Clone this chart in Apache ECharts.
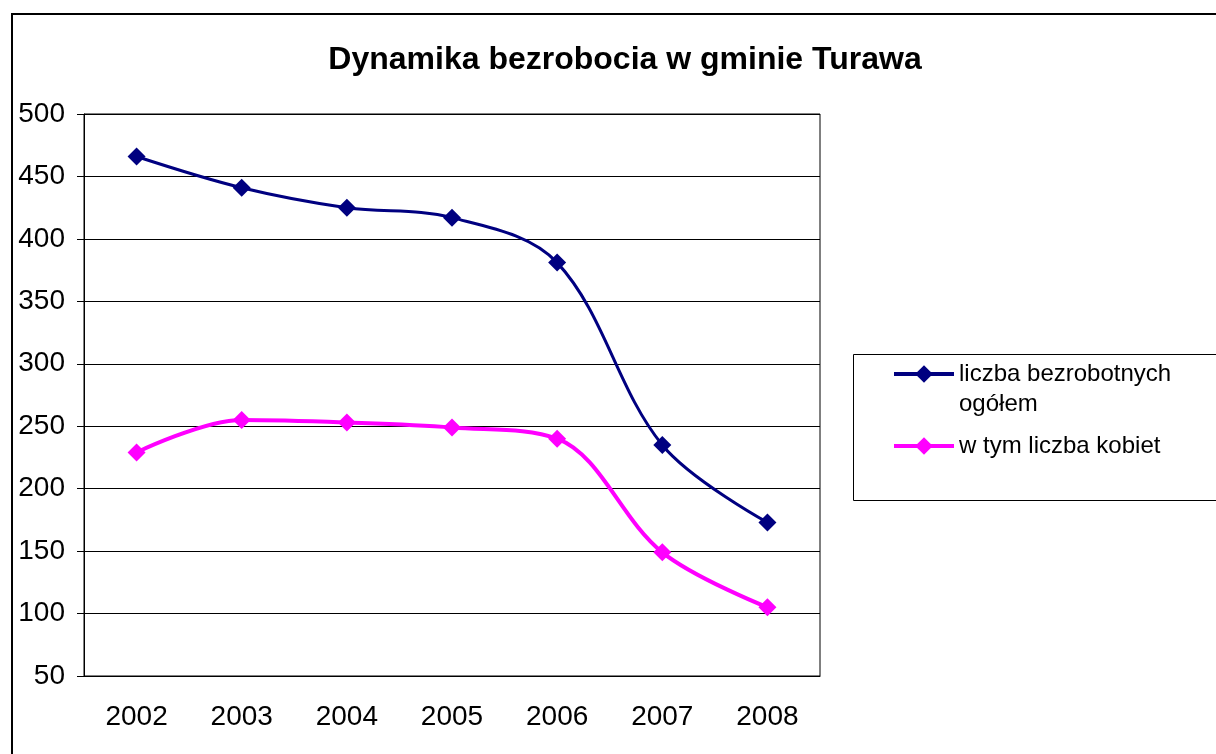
<!DOCTYPE html>
<html>
<head>
<meta charset="utf-8">
<script src="https://cdn.jsdelivr.net/npm/echarts@6/dist/echarts.min.js"></script>
<style>
	html, body { margin: 0; padding: 0; background: #fff; }
	#container { width: 1216px; height: 754px; }
</style>
</head>
<body>
<div id="container"></div>
<script>
// dane
var lata = ['2002', '2003', '2004', '2005', '2006', '2007', '2008'];
var ogolem = [466, 441, 425, 417, 381, 235, 173];
var kobiety = [229, 255, 253, 249, 240, 149, 105];
var nazwy = ['liczba bezrobotnych ogółem', 'w tym liczba kobiet'];
var tytul = 'Dynamika bezrobocia w gminie Turawa';

var myChart = echarts.init(document.getElementById('container'));
var font = 'Liberation Sans, Arial, sans-serif';

var option = {
	animation : false,
	backgroundColor : '#fff',
	title : {
		text : tytul,
		left : 620,
		top : 39,
		textAlign : 'center',
		textStyle : { fontFamily : font, fontSize : 32, fontWeight : 'bold', color : '#000' }
	},
	graphic : [
		{ type : 'rect', shape : { x : 12, y : 14, width : 1300, height : 800 },
		  style : { fill : 'none', stroke : '#000', lineWidth : 2 }, silent : true },
		{ type : 'rect', shape : { x : 853.5, y : 354.5, width : 400, height : 146 },
		  style : { fill : 'none', stroke : '#000', lineWidth : 1 }, silent : true }
	],
	legend : {
		orient : 'vertical',
		left : 887,
		top : 324,
		itemWidth : 60,
		itemHeight : 22,
		itemGap : 12,
		lineStyle : { width : 4 },
		data : nazwy,
		// pusta linia na gorze - znacznik zostaje przy pierwszej linii tekstu
		formatter : function(name) {
			return name == nazwy[0] ? '\nliczba bezrobotnych\nogółem' : name;
		},
		textStyle : { fontFamily : font, fontSize : 24, color : '#000', lineHeight : 30 }
	},
	grid : {
		left : 84, right : 396, top : 114, bottom : 78,
		show : true, borderColor : '#000', borderWidth : 1
	},
	xAxis : {
		type : 'category',
		data : lata,
		boundaryGap : true,
		axisLine : { lineStyle : { color : '#000', width : 1 } },
		axisTick : { length : 8, lineStyle : { color : '#555' } },
		axisLabel : { margin : 27, fontFamily : font, fontSize : 28, color : '#000' }
	},
	yAxis : {
		type : 'value',
		min : 50, max : 500, interval : 50,
		axisLine : { show : true, lineStyle : { color : '#000', width : 1 } },
		axisTick : { show : true, length : 7, lineStyle : { color : '#000' } },
		splitLine : { lineStyle : { color : '#000', width : 1 } },
		axisLabel : { margin : 19, fontFamily : font, fontSize : 28, color : '#000' }
	},
	series : [
		{
			name : nazwy[0],
			type : 'line',
			data : ogolem,
			smooth : 0.35,
			symbol : 'diamond',
			symbolSize : 18,
			lineStyle : { color : '#000080', width : 3 },
			itemStyle : { color : '#000080' }
		},
		{
			name : nazwy[1],
			type : 'line',
			data : kobiety,
			smooth : 0.35,
			symbol : 'diamond',
			symbolSize : 18,
			lineStyle : { color : '#ff00ff', width : 4 },
			itemStyle : { color : '#ff00ff' }
		}
	]
};
myChart.setOption(option);
</script>
</body>
</html>
